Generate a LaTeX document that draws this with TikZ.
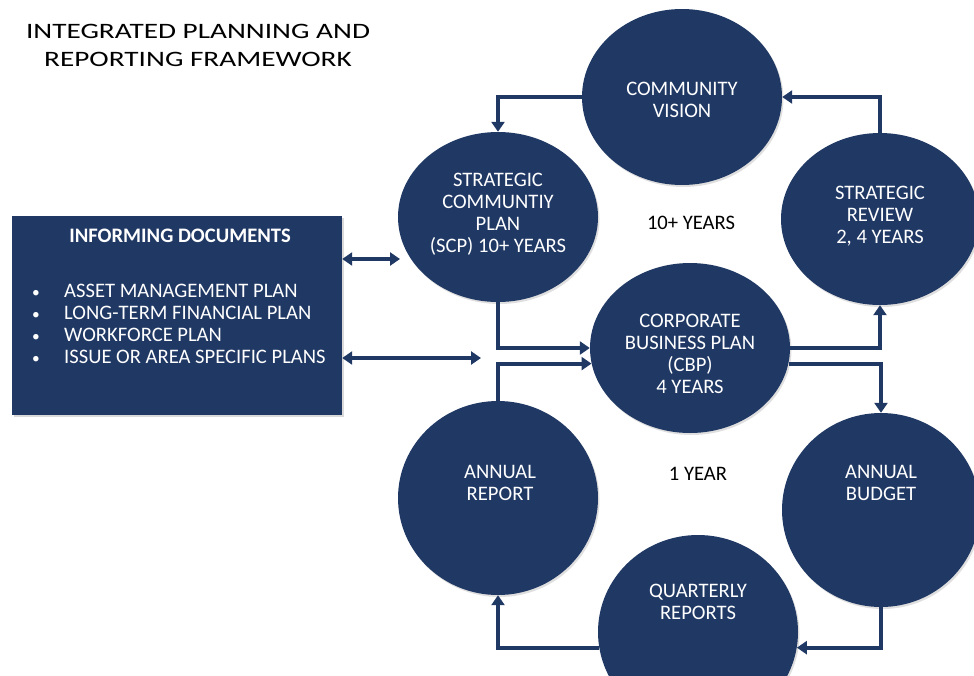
\documentclass[tikz,border=0pt]{standalone}
\usepackage{fontspec}
\setmainfont{Carlito}
\usetikzlibrary{shapes.geometric,arrows.meta,shadows,calc}
\definecolor{navy}{RGB}{32,56,100}
\begin{document}
\begin{tikzpicture}[x=1pt,y=-1pt,
  bub/.style={ellipse, fill=navy, draw=none, inner sep=0pt, minimum width=200pt, minimum height=#1,
    drop shadow={opacity=0.25, shadow xshift=1.5pt, shadow yshift=-2pt}},
  btxt/.style={text=white, align=center, font=\fontsize{20.6}{22}\selectfont},
  note/.style={text=black, font=\fontsize{20.6}{22}\selectfont},
  arr/.style={line width=4pt, draw=navy, -{Triangle[length=10pt,width=13pt]}},
  dbl/.style={line width=4pt, draw=navy, {Triangle[length=10pt,width=13pt]}-{Triangle[length=10pt,width=13pt]}}
]
\useasboundingbox (0,0) rectangle (974,675);

% title
\node[align=center, font=\fontsize{22}{28}\selectfont] (title) at (198,45)
  {\scalebox{1.33}[1]{INTEGRATED PLANNING AND}\\\scalebox{1.33}[1]{REPORTING FRAMEWORK}};

% informing documents box
\node[rectangle, fill=navy, minimum width=330pt, minimum height=199pt, inner sep=0pt,
  drop shadow={opacity=0.3, shadow xshift=2pt, shadow yshift=-2pt}] (box) at (177,315.5) {};
\node[text=white, font=\bfseries\fontsize{20.6}{22}\selectfont] (boxhead) at (180,236) {INFORMING DOCUMENTS};
\node[text=white, anchor=west, inner sep=0pt, font=\fontsize{20.6}{22}\selectfont] (boxlist) at (32,326)
  {\begin{tabular}{@{}p{32pt}@{}l@{}}
   \scalebox{0.75}{•} & ASSET MANAGEMENT PLAN\\
   \scalebox{0.75}{•} & LONG-TERM FINANCIAL PLAN\\
   \scalebox{0.75}{•} & WORKFORCE PLAN\\
   \scalebox{0.75}{•} & ISSUE OR AREA SPECIFIC PLANS
   \end{tabular}};

% ellipses
\node[bub=176pt] (cv)  at (682,97)  {};
\node[bub=170pt] (scp) at (498,217) {};
\node[bub=172pt, minimum width=198pt] (sr) at (880,219) {};
\node[bub=170pt] (cbp) at (690,348) {};
\node[bub=194pt] (ar)  at (498,498) {};
\node[bub=194pt, minimum width=198pt] (ab) at (881,510) {};
\node[bub=194pt] (qr)  at (698,632) {};

\node[btxt] (cvt)  at (682,100)  {COMMUNITY\\VISION};
\node[btxt] (scpt) at (498,214) {STRATEGIC\\COMMUNTIY\\PLAN\\(SCP) 10+ YEARS};
\node[btxt] (srt)  at (880,216) {STRATEGIC\\REVIEW\\2, 4 YEARS};
\node[btxt] (cbpt) at (690,354) {CORPORATE\\BUSINESS PLAN\\(CBP)\\4 YEARS};
\node[btxt] (art)  at (500,483) {ANNUAL\\REPORT};
\node[btxt] (abt)  at (881,483) {ANNUAL\\BUDGET};
\node[btxt] (qrt)  at (698,602) {QUARTERLY\\REPORTS};

\node[note] (ten) at (691,223) {10+ YEARS};
\node[note] (one) at (698,474) {1 YEAR};

% connectors
\draw[arr] (cv.west) -| (scp.north);
\draw[arr] (sr.north) |- (cv.east);
\draw[arr] (scp.south) |- (cbp.west);
\draw[arr] (ar.north) |- (cbp.189);
\draw[arr] (cbp.east) -| (sr.south);
\draw[arr] (cbp.351) -| (ab.north);
\draw[arr] (ab.south) |- (qr.351);
\draw[arr] (qr.189) -| (ar.south);

\coordinate (scpin) at (400,259);
\coordinate (cbpin) at (481,358);
\draw[dbl] (box.east |- scpin) -- (scpin);
\draw[dbl] (box.east |- cbpin) -- (cbpin);
\end{tikzpicture}
\end{document}
